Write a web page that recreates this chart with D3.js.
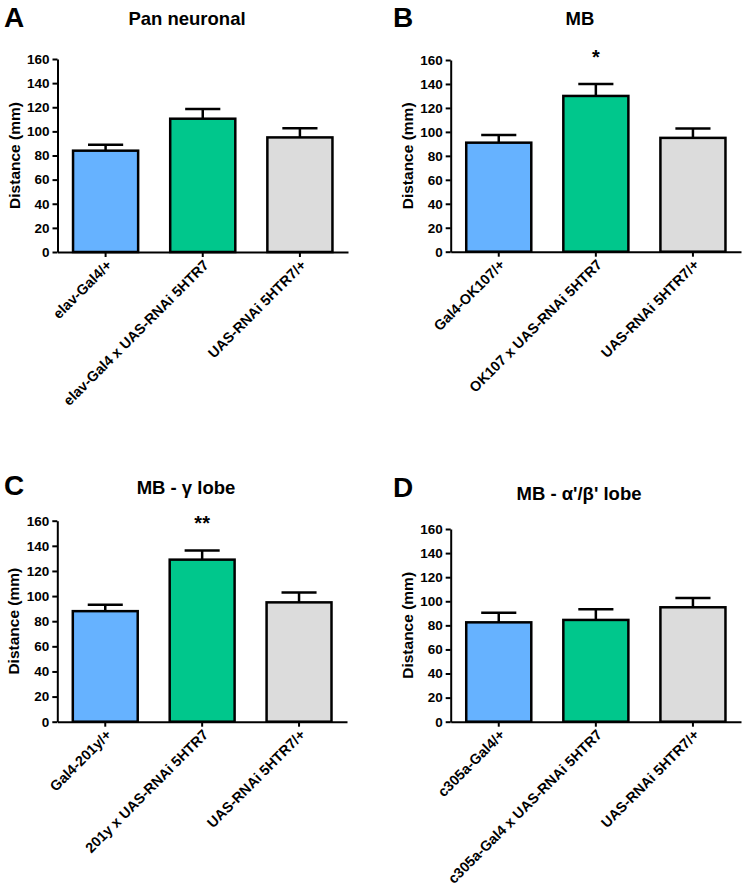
<!DOCTYPE html>
<html>
<head>
<meta charset="utf-8">
<script src="https://cdn.jsdelivr.net/npm/d3@7"></script>
<style>
  html, body { margin: 0; padding: 0; background: #fff; }
  svg { display: block; }
  text { font-family: "Liberation Sans", Arial, Helvetica, sans-serif; font-weight: bold; fill: #000; }
</style>
</head>
<body>
<svg id="chart" width="747" height="895"></svg>
<script>
// ---------- DATA ----------
const yTicks = [0, 20, 40, 60, 80, 100, 120, 140, 160];
const yLabel = "Distance (mm)";

const panelLetters = ["A", "B", "C", "D"];
const panelTitles = ["Pan neuronal", "MB", "MB - \u03B3 lobe", "MB - \u03B1'/\u03B2' lobe"];

const categoriesA = ["elav-Gal4/+", "elav-Gal4 x UAS-RNAi 5HTR7", "UAS-RNAi 5HTR7/+"];
const meansA = [84, 110.5, 95];
const semA = [5, 8, 7.5];
const sigA = ["", "", ""];

const categoriesB = ["Gal4-OK107/+", "OK107 x UAS-RNAi 5HTR7", "UAS-RNAi 5HTR7/+"];
const meansB = [91, 130, 95];
const semB = [6.5, 10, 7.8];
const sigB = ["", "*", ""];

const categoriesC = ["Gal4-201y/+", "201y x UAS-RNAi 5HTR7", "UAS-RNAi 5HTR7/+"];
const meansC = [88, 129, 95];
const semC = [5, 7.3, 7.8];
const sigC = ["", "**", ""];

const categoriesD = ["c305a-Gal4/+", "c305a-Gal4 x UAS-RNAi 5HTR7", "UAS-RNAi 5HTR7/+"];
const meansD = [82.5, 84.5, 95];
const semD = [8, 8.8, 7.8];
const sigD = ["", "", ""];

const barColors = ["#66b2ff", "#00c78c", "#dcdcdc"];

// ---------- LAYOUT ----------
const layouts = [
  { left: 57.5, right: 348, top: 59,  bottom: 252,   letterX: 4,   letterY: 27,  titleX: 187, titleY: 25 },
  { left: 450.7, right: 741, top: 60, bottom: 251.7, letterX: 393, letterY: 27,  titleX: 580, titleY: 25 },
  { left: 57.3, right: 347, top: 520.7, bottom: 721.7, letterX: 4, letterY: 495, titleX: 186, titleY: 494 },
  { left: 450.7, right: 741, top: 529, bottom: 721.7, letterX: 393, letterY: 497, titleX: 579, titleY: 500 }
];

const panels = [
  { cats: categoriesA, means: meansA, sem: semA, sig: sigA },
  { cats: categoriesB, means: meansB, sem: semB, sig: sigB },
  { cats: categoriesC, means: meansC, sem: semC, sig: sigC },
  { cats: categoriesD, means: meansD, sem: semD, sig: sigD }
];

const svg = d3.select("#chart");

panels.forEach((p, i) => {
  const L = layouts[i];
  const g = svg.append("g");

  const x = d3.scaleBand().domain(p.cats).range([L.left, L.right])
    .paddingInner(0.33).paddingOuter(0.16);
  const y = d3.scaleLinear().domain([0, 160]).range([L.bottom, L.top]);

  // panel letter
  g.append("text").attr("x", L.letterX).attr("y", L.letterY)
    .style("font-size", "28px").text(panelLetters[i]);
  // title
  g.append("text").attr("x", L.titleX).attr("y", L.titleY)
    .attr("text-anchor", "middle").style("font-size", "18.5px").text(panelTitles[i]);

  const rows = p.cats.map((c, k) => ({ c, m: p.means[k], e: p.sem[k], s: p.sig[k], col: barColors[k] }));

  // error bars (upper only)
  const cap = x.bandwidth() * 0.54;
  rows.forEach(r => {
    const cx = x(r.c) + x.bandwidth() / 2;
    g.append("line").attr("x1", cx).attr("x2", cx)
      .attr("y1", y(r.m)).attr("y2", y(r.m + r.e))
      .attr("stroke", "#000").attr("stroke-width", 2.5);
    g.append("line").attr("x1", cx - cap / 2).attr("x2", cx + cap / 2)
      .attr("y1", y(r.m + r.e)).attr("y2", y(r.m + r.e))
      .attr("stroke", "#000").attr("stroke-width", 2.5);
  });

  // bars
  g.selectAll("rect.bar").data(rows).enter().append("rect")
    .attr("class", "bar")
    .attr("x", d => x(d.c))
    .attr("y", d => y(d.m))
    .attr("width", x.bandwidth())
    .attr("height", d => y(0) - y(d.m))
    .attr("fill", d => d.col)
    .attr("stroke", "#000").attr("stroke-width", 2.5);

  // significance
  rows.forEach(r => {
    if (r.s) {
      g.append("text").attr("x", x(r.c) + x.bandwidth() / 2)
        .attr("y", y(r.m + r.e) - 20)
        .attr("text-anchor", "middle").style("font-size", "20px").text(r.s);
    }
  });

  // y axis
  const ya = g.append("g").attr("transform", `translate(${L.left},0)`)
    .call(d3.axisLeft(y).tickValues(yTicks).tickSize(5).tickSizeOuter(0).tickPadding(3));
  ya.selectAll("path, line").attr("stroke", "#000").attr("stroke-width", 2);
  ya.selectAll("text").style("font-size", "13.5px").attr("fill", "#000");

  // x axis
  const xa = g.append("g").attr("transform", `translate(0,${L.bottom})`)
    .call(d3.axisBottom(x).tickSize(5).tickSizeOuter(0));
  xa.select("path.domain").attr("stroke", "#000").attr("stroke-width", 2);
  xa.selectAll("line").attr("stroke", "#000").attr("stroke-width", 2);
  xa.selectAll("text")
    .style("font-size", "14.3px")
    .attr("text-anchor", "end")
    .attr("dy", null)
    .attr("y", null)
    .attr("transform", "translate(7,14) rotate(-45)");

  // y label
  g.append("text")
    .attr("transform", `translate(${L.left - 38},${(L.top + L.bottom) / 2}) rotate(-90)`)
    .attr("text-anchor", "middle").style("font-size", "15.5px").text(yLabel);
});
svg.selectAll("g").attr("font-family", null).attr("font-size", null);
</script>
</body>
</html>
